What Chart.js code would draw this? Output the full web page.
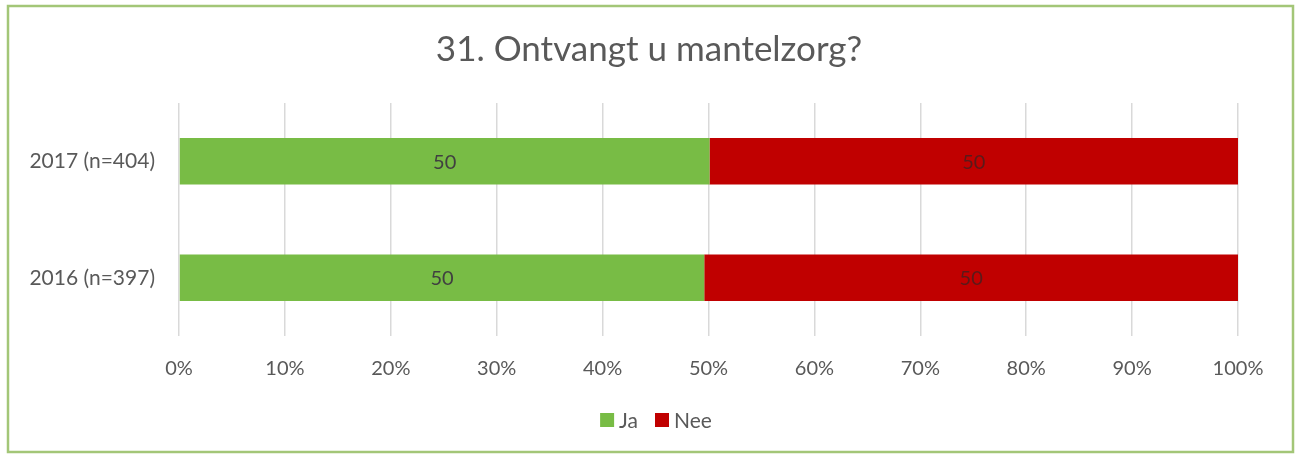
<!DOCTYPE html>
<html>
<head>
<meta charset="utf-8">
<script src="https://cdn.jsdelivr.net/npm/chart.js@4/dist/chart.umd.min.js"></script>
<style>
  html, body { margin: 0; padding: 0; background: #ffffff; }
  #wrap { width: 1297px; height: 454px; position: relative; }
</style>
</head>
<body>
<div id="wrap"><canvas id="c" width="1297" height="454"></canvas></div>
<script>
// Survey question 31: share of respondents receiving informal care
const titleText = '31. Ontvangt u mantelzorg?';
const categories = ['2017 (n=404)', '2016 (n=397)'];
const seriesNames = ['Ja', 'Nee'];
const jaValues = [50.1, 49.6];
const neeValues = [49.9, 50.4];
const tickLabels = ['0%', '10%', '20%', '30%', '40%', '50%', '60%', '70%', '80%', '90%', '100%'];

const FONT = 'Lato, "Open Sans", sans-serif';
const TEXT = '#595959';
const colors = ['#78bc45', '#c00000'];

// Frame, title, legend and value labels
const decor = {
  id: 'decor',
  beforeDraw(chart) {
    const ctx = chart.ctx;
    ctx.save();
    ctx.fillStyle = '#ffffff';
    ctx.fillRect(0, 0, chart.width, chart.height);
    ctx.restore();
  },
  afterDraw(chart) {
    const ctx = chart.ctx;
    ctx.save();
    // outer frame
    ctx.strokeStyle = '#a3c677';
    ctx.lineWidth = 2.5;
    ctx.strokeRect(8, 6, 1285, 446);
    // title
    ctx.fillStyle = TEXT;
    ctx.font = '35px ' + FONT;
    ctx.textAlign = 'center';
    ctx.textBaseline = 'middle';
    ctx.fillText(titleText, 649, 50);
    // value labels inside each bar
    ctx.font = '20px ' + FONT;
    chart.data.datasets.forEach((ds, di) => {
      const meta = chart.getDatasetMeta(di);
      meta.data.forEach((bar, i) => {
        const v = ds.data[i];
        const cx = (bar.x + bar.base) / 2;
        ctx.fillStyle = di === 0 ? '#404040' : '#5a1a1a';
        ctx.fillText(String(Math.round(v)), cx, bar.y + 1);
      });
    });
    // legend
    const items = chart.data.datasets.map(ds => ({ label: ds.label, color: ds.backgroundColor }));
    ctx.font = '21px ' + FONT;
    ctx.textAlign = 'left';
    const box = 14, gapBoxText = 5, gapItems = 17;
    let total = 0;
    items.forEach((it, k) => {
      total += box + gapBoxText + ctx.measureText(it.label).width + (k < items.length - 1 ? gapItems : 0);
    });
    let x = 656 - total / 2;
    const y = 420;
    items.forEach(it => {
      ctx.fillStyle = it.color;
      ctx.fillRect(x, y - box / 2, box, box);
      x += box + gapBoxText;
      ctx.fillStyle = TEXT;
      ctx.fillText(it.label, x, y + 1);
      x += ctx.measureText(it.label).width + gapItems;
    });
    ctx.restore();
  }
};

new Chart(document.getElementById('c'), {
  type: 'bar',
  data: {
    labels: categories,
    datasets: [
      { label: seriesNames[0], data: jaValues, backgroundColor: colors[0] },
      { label: seriesNames[1], data: neeValues, backgroundColor: colors[1] }
    ]
  },
  options: {
    indexAxis: 'y',
    responsive: false,
    animation: false,
    devicePixelRatio: 1,
    layout: { padding: { top: 103, right: 59, bottom: 58, left: 0 } },
    datasets: { bar: { barPercentage: 0.8, categoryPercentage: 0.5 } },
    plugins: {
      legend: { display: false },
      title: { display: false },
      tooltip: { enabled: false }
    },
    scales: {
      x: {
        stacked: true,
        min: 0,
        max: 100,
        border: { display: false },
        grid: { color: '#d9d9d9', lineWidth: 1.5, drawTicks: false },
        ticks: {
          stepSize: 10,
          padding: 21,
          color: TEXT,
          font: { family: FONT, size: 20 },
          callback: (v, i) => tickLabels[i]
        },
        afterFit(scale) { scale.height = 60; }
      },
      y: {
        stacked: true,
        border: { display: false },
        grid: { display: false, drawTicks: false },
        ticks: {
          padding: 24,
          color: TEXT,
          font: { family: FONT, size: 21 }
        },
        afterFit(scale) { scale.width = 179; }
      }
    }
  },
  plugins: [decor]
});
</script>
</body>
</html>
